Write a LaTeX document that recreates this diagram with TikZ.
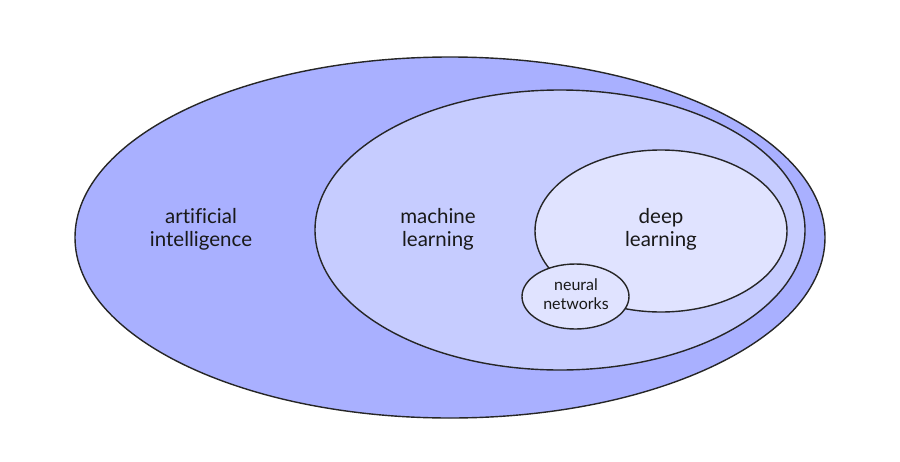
\documentclass[tikz,border=0pt]{standalone}
\usepackage{fontspec}
\setmainfont[Ligatures=NoCommon]{Lato}
\usepackage{tikz}
\usetikzlibrary{calc,positioning,shapes.geometric}
\definecolor{aiblue}{HTML}{A9B0FF}
\definecolor{mlblue}{HTML}{C6CCFF}
\definecolor{dlblue}{HTML}{E0E3FF}
\tikzset{
	set/.style={draw=black!85, line width=1.4pt, ellipse, inner sep=0pt},
	settext/.style={align=center, text=black!90, inner sep=0pt},
}

\begin{document}
\begin{tikzpicture}[x=1pt, y=-1pt]
		\useasboundingbox (0,0) rectangle (900,461);
		\node[set, fill=aiblue, minimum width=750, minimum height=361] at (450,237.5) (ai) {};
		\node[set, fill=mlblue, minimum width=490, minimum height=280] at (560,230) (ml) {};
		\node[set, fill=dlblue, minimum width=252, minimum height=162] at (661,231) (dl) {};
		\node[set, fill=dlblue, minimum width=107, minimum height=65] at (575.5,296.5) (nn) {};
		\node[settext, font=\fontsize{20.5}{23}\selectfont] at (201,229) (ailabel) {artificial\\intelligence};
		\node[settext, font=\fontsize{20.5}{23}\selectfont] at (438,229) (mllabel) {machine\\learning};
		\node[settext, font=\fontsize{20.5}{23}\selectfont] at (661,229) (dllabel) {deep\\learning};
		\node[settext, font=\fontsize{16}{19}\selectfont] at (576,294) (nnlabel) {neural\\networks};
\end{tikzpicture}
\end{document}
